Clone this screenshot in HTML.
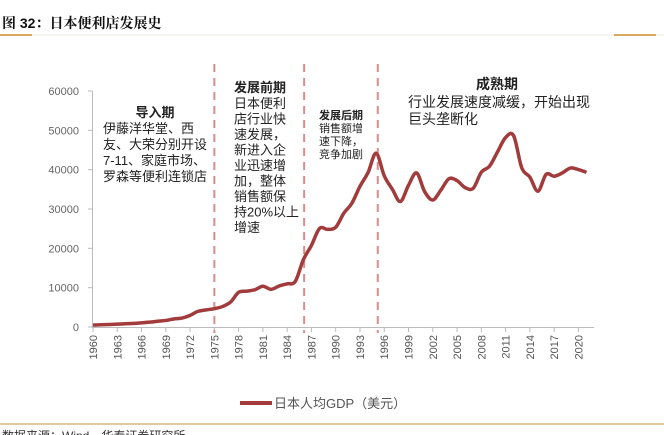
<!DOCTYPE html>
<html><head><meta charset="utf-8"><style>
body{margin:0;background:#fff;width:664px;height:435px;overflow:hidden;font-family:"Liberation Sans","Noto Sans CJK SC",sans-serif;}
svg{display:block}
</style></head><body>
<svg width="664" height="435" xmlns="http://www.w3.org/2000/svg">
<text x="2" y="28" font-size="14" font-weight="bold" fill="#111" font-family="Liberation Sans,Noto Serif CJK SC,serif">图 32：日本便利店发展史</text>
<line x1="0" y1="35" x2="664" y2="35" stroke="#eee9dc" stroke-width="1"/>
<line x1="0" y1="35" x2="32" y2="35" stroke="#d08a2a" stroke-width="1.5"/>
<line x1="614" y1="35" x2="656" y2="35" stroke="#d08a2a" stroke-width="1.5"/>
<g id="axes"></g>
<g id="marks"></g>
<g font-size="13" fill="#222">
<text x="155" y="117" font-weight="bold" text-anchor="middle">导入期</text>
<text x="103" y="133">伊藤洋华堂、西</text>
<text x="103" y="149">友、大荣分别开设</text>
<text x="103" y="165">7-11、家庭市场、</text>
<text x="103" y="181">罗森等便利连锁店</text>
<text x="234" y="92" font-weight="bold">发展前期</text>
<text x="234" y="108">日本便利</text>
<text x="234" y="123.5">店行业快</text>
<text x="234" y="139">速发展，</text>
<text x="234" y="154.5">新进入企</text>
<text x="234" y="170">业迅速增</text>
<text x="234" y="185.5">加，整体</text>
<text x="234" y="201">销售额保</text>
<text x="234" y="216.5">持20%以上</text>
<text x="234" y="232">增速</text>
<text x="319" y="119" font-size="11" font-weight="bold">发展后期</text>
<text x="319" y="132" font-size="11">销售额增</text>
<text x="319" y="145" font-size="11">速下降，</text>
<text x="319" y="158" font-size="11">竞争加剧</text>
<text x="497" y="89" font-size="14" font-weight="bold" text-anchor="middle">成熟期</text>
<text x="408" y="107" font-size="14">行业发展速度减缓，开始出现</text>
<text x="408" y="124" font-size="14">巨头垄断化</text>
</g>
<g>
<line x1="240" y1="403" x2="272" y2="403" stroke="#a23b3b" stroke-width="4"/>
<text x="274" y="408" font-size="13" fill="#555">日本人均GDP（美元）</text>
</g>
<line x1="0" y1="424" x2="664" y2="424" stroke="#d9b77c" stroke-width="1.5"/>
<text x="2" y="440" font-size="12" fill="#333">数据来源：Wind，华泰证券研究所</text>
</svg>
<script>
const years=[];for(let y=1960;y<=2021;y++)years.push(y);
const gdp=[479,564,634,718,835,919,1058,1228,1450,1669,2037,2272,2967,3997,4354,4659,5197,6335,8821,9105,9465,10361,9578,10425,10984,11585,17112,20745,25051,24813,25359,28925,31465,35766,39269,44198,38437,35022,31903,36027,39169,34406,32289,34808,37688,37218,35434,35275,39339,40855,44508,48168,48603,40454,38109,34524,38794,38332,39159,40416,40040,39312];
const yTicks=[0,10000,20000,30000,40000,50000,60000];
const phaseBreaks=[1975,1986.1,1995.2];
const NS="http://www.w3.org/2000/svg";
const X=y=>93+(y-1960)*8.09;
const Y=v=>327-v*(236/60000);
function mk(t,a,p){const e=document.createElementNS(NS,t);for(const k in a)e.setAttribute(k,a[k]);p.appendChild(e);return e;}
const ax=document.getElementById('axes'),mk2=document.getElementById('marks');
const ya=mk('line',{x1:92.5,y1:Y(60000),x2:92.5,y2:327,stroke:'#bbb'},ax);


const xa=mk('line',{x1:92,y1:327.5,x2:594,y2:327.5,stroke:'#bbb'},ax);


yTicks.forEach(v=>{
 mk('line',{x1:88,y1:Y(v),x2:92.5,y2:Y(v),stroke:'#bbb'},ax);
 const t=mk('text',{x:79,y:Y(v)+4,'font-size':11,fill:'#666','text-anchor':'end'},ax);t.textContent=v;
 
 
});
years.forEach(y=>{if((y-1960)%3)return;
 mk('line',{x1:X(y),y1:327.5,x2:X(y),y2:332,stroke:'#bbb'},ax);
 const t=mk('text',{x:0,y:0,'font-size':11,fill:'#555','text-anchor':'end',transform:`translate(${X(y)+4},335) rotate(-90)`},ax);t.textContent=y;
 
 
});
phaseBreaks.forEach(b=>{
 const l=mk('line',{x1:X(b),y1:64,x2:X(b),y2:333,stroke:'#d98c8c','stroke-width':2,'stroke-dasharray':'8,6'},mk2);
 
 
});
const pts=years.map((y,i)=>[X(y),Y(gdp[i])]);
let d=`M${pts[0][0]},${pts[0][1]}`;
for(let i=1;i<pts.length;i++){const p0=pts[i-2]||pts[i-1],p1=pts[i-1],p2=pts[i],p3=pts[i+1]||p2;
 d+=` C${p1[0]+(p2[0]-p0[0])/6},${p1[1]+(p2[1]-p0[1])/6} ${p2[0]-(p3[0]-p1[0])/6},${p2[1]-(p3[1]-p1[1])/6} ${p2[0]},${p2[1]}`;}
const ln=mk('path',{d:d,fill:'none',stroke:'#a23b3b','stroke-width':3.5,'stroke-linejoin':'round'},mk2);


</script>
</body></html>
